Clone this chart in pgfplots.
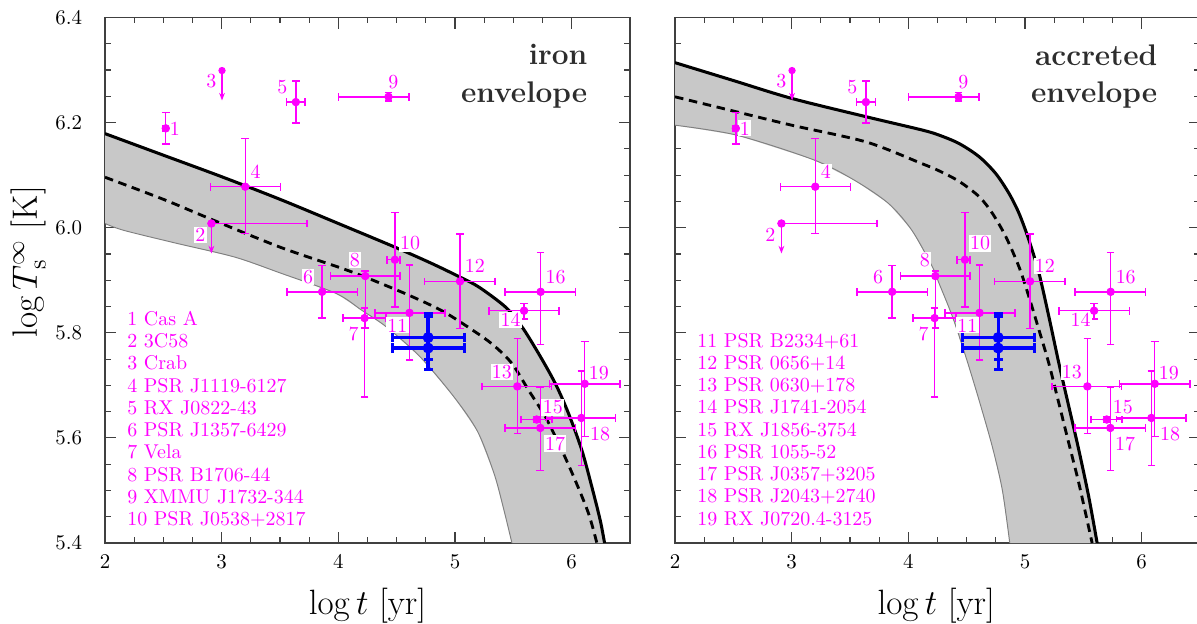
\RequirePackage{fix-cm}
\documentclass[border=0pt]{standalone}
\usepackage{pgfplots}
\pgfplotsset{compat=1.18}
\usepackage{pgfplotstable}
\usepgfplotslibrary{fillbetween}
\usetikzlibrary{arrows.meta}
\definecolor{band}{RGB}{200,200,200}
\definecolor{axisgray}{RGB}{64,64,64}
\definecolor{mag}{RGB}{255,0,255}
\definecolor{blu}{RGB}{0,0,255}
\definecolor{lbl}{RGB}{45,45,45}

% iron envelope curves
\pgfplotstableread{
x y
2.000 6.179
2.500 6.138
3.000 6.097
3.500 6.054
4.000 6.008
4.485 5.963
4.800 5.932
5.043 5.906
5.205 5.887
5.433 5.849
5.575 5.811
5.718 5.760
5.861 5.703
5.974 5.646
6.088 5.576
6.174 5.506
6.245 5.443
6.282 5.400
}\ironUp
\pgfplotstableread{
x y
2.000 6.096
2.500 6.054
2.911 6.016
3.500 5.963
4.000 5.925
4.231 5.906
4.600 5.872
4.904 5.840
5.205 5.797
5.348 5.773
5.490 5.741
5.633 5.690
5.775 5.640
5.917 5.576
6.031 5.519
6.145 5.456
6.216 5.400
}\ironMid
\pgfplotstableread{
x y
2.000 6.008
2.160 5.995
2.600 5.971
3.113 5.944
3.500 5.914
3.980 5.875
4.200 5.843
4.413 5.811
4.702 5.754
4.991 5.678
5.194 5.612
5.338 5.530
5.420 5.462
5.488 5.400
}\ironLo

% accreted envelope curves
\pgfplotstableread{
x y
2.000 6.314
2.500 6.280
3.000 6.246
3.640 6.211
4.115 6.186
4.265 6.176
4.436 6.160
4.607 6.135
4.749 6.103
4.863 6.065
4.949 6.027
5.034 5.976
5.120 5.913
5.205 5.830
5.291 5.741
5.376 5.659
5.462 5.576
5.547 5.487
5.618 5.400
}\accUp
\pgfplotstableread{
x y
2.000 6.249
2.500 6.222
3.000 6.195
3.640 6.163
4.115 6.122
4.265 6.108
4.436 6.088
4.607 6.059
4.721 6.027
4.835 5.983
4.949 5.925
5.034 5.868
5.120 5.805
5.205 5.741
5.291 5.665
5.376 5.589
5.462 5.513
5.575 5.400
}\accMid
\pgfplotstableread{
x y
2.000 6.195
2.530 6.176
3.190 6.129
3.540 6.090
3.830 6.046
4.030 5.995
4.200 5.928
4.265 5.893
4.379 5.830
4.493 5.754
4.607 5.671
4.721 5.582
4.806 5.500
4.869 5.400
}\accLo

% observations: x y xplus xminus yplus yminus
\pgfplotstableread{
x y xp xm yp ym
2.521 6.189 0.025 0.025 0.030 0.030
3.202 6.078 0.304 0.300 0.092 0.089
3.636 6.239 0.080 0.080 0.040 0.040
3.861 5.878 0.302 0.302 0.050 0.050
4.225 5.828 0.182 0.185 0.019 0.150
4.231 5.908 0.298 0.300 0.010 0.099
4.430 6.249 0.177 0.427 0.008 0.008
4.485 5.939 0.044 0.069 0.090 0.090
4.610 5.838 0.303 0.295 0.091 0.090
5.043 5.898 0.300 0.303 0.090 0.090
5.534 5.698 0.295 0.303 0.091 0.090
5.592 5.842 0.301 0.300 0.014 0.016
5.700 5.635 0.132 0.134 0.006 0.006
5.734 5.878 0.297 0.304 0.075 0.100
5.731 5.619 0.300 0.301 0.078 0.081
6.083 5.638 0.295 0.297 0.089 0.090
6.112 5.703 0.301 0.303 0.080 0.100
}\obs
\pgfplotstableread{
x y xp xm yp ym
4.770 5.791 0.312 0.308 0.046 0.041
4.770 5.771 0.312 0.308 0.060 0.041
}\ours

\pgfplotsset{
  panel/.style={
    scale only axis, width=276.3pt, height=276.6pt,
    xmin=2, xmax=6.5, ymin=5.4, ymax=6.4,
    xtick={2,3,4,5,6}, ytick={5.4,5.6,5.8,6.0,6.2,6.4},
    minor x tick num=3, minor y tick num=3,
    tick align=inside, major tick length=6pt, minor tick length=3pt,
    axis line style={draw=axisgray, line width=0.8pt},
    every tick/.append style={axisgray, line width=0.6pt},
    tick label style={font=\fontsize{11}{13}\selectfont},
    xticklabel style={yshift=-3pt},
    yticklabel style={xshift=-8.5pt, /pgf/number format/.cd, fixed, fixed zerofill, precision=1},
  },
  magerr/.style={/pgfplots/error bars/error bar style={line width=0.75pt, draw=mag},
    /pgfplots/error bars/error mark options={rotate=90, mark size=2pt, line width=0.75pt, draw=mag}},
  bluerr/.style={/pgfplots/error bars/error bar style={line width=1.8pt, draw=blu},
    /pgfplots/error bars/error mark options={rotate=90, mark size=2.4pt, line width=1.5pt, draw=blu}},
}
\tikzset{lab/.style={font=\fontsize{10.5}{12}\selectfont, text=mag, fill=white, inner sep=0.7pt}}

\newcommand{\obsdata}{%
  % horizontal error bars
  \addplot[only marks, mark=none, color=mag,
    error bars/x dir=both, error bars/x explicit, magerr]
    table[x=x, y=y, x error plus=xp, x error minus=xm]{\obs};
  \addplot[only marks, mark=none, color=mag,
    error bars/x dir=plus, error bars/x explicit, magerr]
    coordinates {(2.912,6.008) +- (0.820,0)};
  % vertical error bars and markers
  \addplot[only marks, mark=*, mark size=1.7pt, color=mag,
    error bars/y dir=both, error bars/y explicit, magerr]
    table[x=x, y=y, y error plus=yp, y error minus=ym]{\obs};
  \addplot[only marks, mark=*, mark size=1.7pt, color=mag]
    coordinates {(2.912,6.008) (3.003,6.299)};
  % upper limits
  \addplot[mag, line width=0.75pt, -{Stealth[length=4pt,width=3pt]},
    quiver={u=0, v=\thisrow{v}}]
    table[row sep=\\]{x y v\\ 2.912 6.008 -0.057\\ 3.003 6.299 -0.057\\};
  % this work
  \addplot[only marks, mark=none, color=blu,
    error bars/x dir=both, error bars/x explicit, bluerr]
    table[x=x, y=y, x error plus=xp, x error minus=xm]{\ours};
  \addplot[only marks, mark=*, mark size=2.7pt, color=blu,
    error bars/y dir=both, error bars/y explicit, bluerr]
    table[x=x, y=y, y error plus=yp, y error minus=ym]{\ours};
  \node[lab] at (axis cs:2.598,6.189) {1};
  \node[lab] at (axis cs:2.818,5.986) {2};
  \node[lab] at (axis cs:2.911,6.279) {3};
  \node[lab] at (axis cs:3.292,6.106) {4};
  \node[lab] at (axis cs:3.520,6.267) {5};
  \node[lab] at (axis cs:3.740,5.906) {6};
  \node[lab] at (axis cs:4.130,5.798) {7};
  \node[lab] at (axis cs:4.142,5.938) {8};
  \node[lab] at (axis cs:4.471,6.278) {9};
  \node[lab] at (axis cs:4.615,5.970) {10};
  \node[lab] at (axis cs:4.506,5.814) {11};
  \node[lab] at (axis cs:5.170,5.927) {12};
  \node[lab] at (axis cs:5.402,5.725) {13};
  \node[lab] at (axis cs:5.477,5.824) {14};
  \node[lab] at (axis cs:5.838,5.658) {15};
  \node[lab] at (axis cs:5.863,5.906) {16};
  \node[lab] at (axis cs:5.858,5.589) {17};
  \node[lab] at (axis cs:6.243,5.608) {18};
  \node[lab] at (axis cs:6.233,5.724) {19};
}

\begin{document}
\begin{tikzpicture}
\begin{axis}[panel, at={(0pt,0pt)}, anchor=south west]
  \addplot[draw=none, name path=up] table{\ironUp};
  \addplot[draw=none, name path=lo] table{\ironLo};
  \addplot[band, draw=none] fill between[of=up and lo];
  \addplot[smooth, gray, line width=0.5pt] table{\ironLo};
  \addplot[smooth, black, line width=1.6pt] table{\ironUp};
  \addplot[smooth, black, line width=1.5pt, dash pattern=on 4.5pt off 3pt] table{\ironMid};
  \obsdata
  \node[anchor=north west, align=left, text=mag, inner sep=0pt,
        font=\fontsize{10.5}{11.7}\selectfont] at (axis cs:2.188,5.842)
    {1 Cas A\\2 3C58\\3 Crab\\4 PSR J1119-6127\\5 RX J0822-43\\6 PSR J1357-6429\\7 Vela\\8 PSR B1706-44\\9 XMMU J1732-344\\10 PSR J0538+2817};
  \node[anchor=north east, align=right, text=lbl, inner sep=0pt,
        font=\fontsize{15.7}{19.8}\selectfont\bfseries] at (axis cs:6.137,6.349) {iron\\envelope};
\end{axis}
\begin{axis}[panel, at={(300pt,0pt)}, anchor=south west, yticklabels={}]
  \addplot[draw=none, name path=up] table{\accUp};
  \addplot[draw=none, name path=lo] table{\accLo};
  \addplot[band, draw=none] fill between[of=up and lo];
  \addplot[smooth, gray, line width=0.5pt] table{\accLo};
  \addplot[smooth, black, line width=1.6pt] table{\accUp};
  \addplot[smooth, black, line width=1.5pt, dash pattern=on 4.5pt off 3pt] table{\accMid};
  \obsdata
  \node[anchor=north west, align=left, text=mag, inner sep=0pt,
        font=\fontsize{10.5}{11.7}\selectfont] at (axis cs:2.188,5.800)
    {11 PSR B2334+61\\12 PSR 0656+14\\13 PSR 0630+178\\14 PSR J1741-2054\\15 RX J1856-3754\\16 PSR 1055-52\\17 PSR J0357+3205\\18 PSR J2043+2740\\19 RX J0720.4-3125};
  \node[anchor=north east, align=right, text=lbl, inner sep=0pt,
        font=\fontsize{15.7}{19.8}\selectfont\bfseries] at (axis cs:6.137,6.349) {accreted\\envelope};
\end{axis}
\node[rotate=90, font=\fontsize{18.5}{22}\selectfont] at (-40.5pt,148pt) {$\log T_{\mathrm{s}}^{\infty}\ [\mathrm{K}]$};
\node[anchor=base, font=\fontsize{18.5}{22}\selectfont] at (138.15pt,-37.4pt) {$\log t\ [\mathrm{yr}]$};
\node[anchor=base, font=\fontsize{18.5}{22}\selectfont] at (437.5pt,-37.4pt) {$\log t\ [\mathrm{yr}]$};
\pgfresetboundingbox
\useasboundingbox (-55.26pt,-42.1pt) rectangle (574.7pt,285.8pt);
\end{tikzpicture}
\end{document}
